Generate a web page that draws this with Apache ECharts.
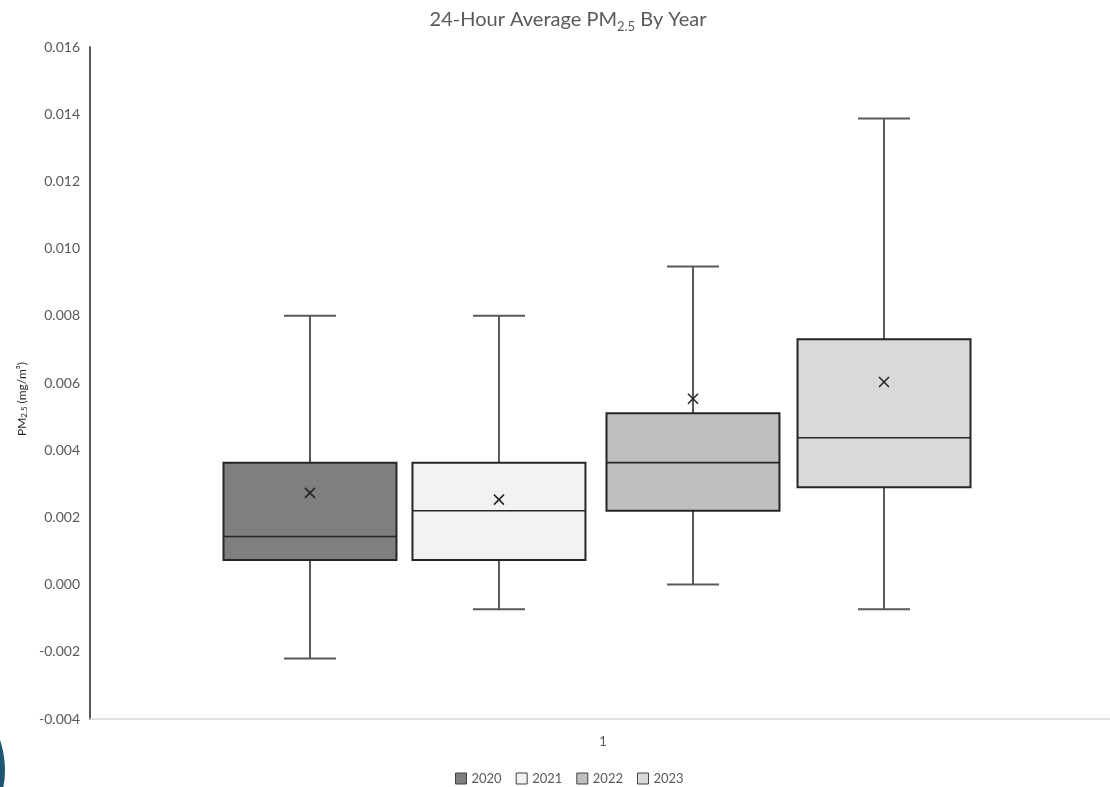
<!DOCTYPE html>
<html><head><meta charset="utf-8">
<script src="https://cdn.jsdelivr.net/npm/echarts@6/dist/echarts.min.js"></script>
<style>html,body{margin:0;padding:0;background:#fff}#c{width:1110px;height:787px}</style>
</head><body><div id="c"></div>
<script>
// ---- data ----
const categories = ['1'];
const years = ['2020', '2021', '2022', '2023'];
const minVals    = [-0.0022,  -0.00073, 0.0,     -0.00073];
const q1Vals     = [0.00073,  0.00073,  0.0022,  0.0029];
const medianVals = [0.00143,  0.0022,   0.00363, 0.00437];
const q3Vals     = [0.00363,  0.00363,  0.0051,  0.0073];
const maxVals    = [0.0080,   0.0080,   0.00947, 0.01387];
const meanVals   = [0.00273,  0.00253,  0.00553, 0.00603];
const yMin = -0.004, yMax = 0.016, yInterval = 0.002;

// ---- style ----
const fills = ['#7f7f7f', '#f2f2f2', '#bfbfbf', '#d9d9d9'];
const boxOffsetFrac = [-0.2856, -0.1014, 0.0877, 0.2739];
const boxWidthFrac = 0.1686, capWidthFrac = 0.0507;
const FONT = "Lato, 'Open Sans', sans-serif";
const TXT = '#595959';

function makeRender(i) {
  return function (params, api) {
    const band = api.size([1, 0])[0];
    const cat = api.value(0);
    const cx = api.coord([cat, 0])[0] + boxOffsetFrac[i] * band;
    const w = boxWidthFrac * band, cw = capWidthFrac * band;
    const y = k => api.coord([cat, api.value(k)])[1];
    const yLo = y(1), yQ1 = y(2), yMed = y(3), yQ3 = y(4), yHi = y(5), yMean = y(6);
    const ws = { stroke: '#595959', lineWidth: 2 };
    const ms = { stroke: '#262626', lineWidth: 1.6 };
    const m = 5;
    return {
      type: 'group',
      children: [
        { type: 'line', shape: { x1: cx, y1: yHi, x2: cx, y2: yQ3 }, style: ws },
        { type: 'line', shape: { x1: cx, y1: yQ1, x2: cx, y2: yLo }, style: ws },
        { type: 'line', shape: { x1: cx - cw / 2, y1: yHi, x2: cx + cw / 2, y2: yHi }, style: ws },
        { type: 'line', shape: { x1: cx - cw / 2, y1: yLo, x2: cx + cw / 2, y2: yLo }, style: ws },
        { type: 'rect', shape: { x: cx - w / 2, y: yQ3, width: w, height: yQ1 - yQ3 },
          style: { fill: fills[i], stroke: '#262626', lineWidth: 2 } },
        { type: 'line', shape: { x1: cx - w / 2, y1: yMed, x2: cx + w / 2, y2: yMed }, style: ms },
        { type: 'line', shape: { x1: cx - m, y1: yMean - m, x2: cx + m, y2: yMean + m }, style: { stroke: '#262626', lineWidth: 1.6 } },
        { type: 'line', shape: { x1: cx - m, y1: yMean + m, x2: cx + m, y2: yMean - m }, style: { stroke: '#262626', lineWidth: 1.6 } }
      ]
    };
  };
}

const series = years.map((yr, i) => ({
  name: yr,
  type: 'custom',
  renderItem: makeRender(i),
  itemStyle: { color: fills[i] },
  encode: { x: 0, y: [1, 2, 3, 4, 5, 6] },
  data: [[0, minVals[i], q1Vals[i], medianVals[i], q3Vals[i], maxVals[i], meanVals[i]]]
}));

const chart = echarts.init(document.getElementById('c'), null, { renderer: 'canvas' });
chart.setOption({
  backgroundColor: '#fff',
  animation: false,
  textStyle: { fontFamily: FONT },
  title: {
    text: '24-Hour Average PM{sub|2.5} By Year',
    left: 563, textAlign: 'center', top: 2,
    textStyle: {
      fontFamily: FONT, fontSize: 20, fontWeight: 'normal', color: TXT, lineHeight: 26,
      rich: { sub: { fontFamily: FONT, fontSize: 13, color: TXT, verticalAlign: 'bottom', lineHeight: 26, padding: [7, 0, 0, 0] } }
    }
  },
  grid: { left: 90, right: -6, top: 47, bottom: 68, outerBoundsMode: 'none', containLabel: false },
  legend: {
    data: years, top: 767, left: 450, icon: 'rect', itemWidth: 11, itemHeight: 11, itemGap: 14,
    itemStyle: { borderColor: '#404040', borderWidth: 1 },
    textStyle: { color: TXT, fontSize: 13, fontFamily: FONT }
  },
  xAxis: {
    type: 'category', data: categories,
    axisLine: { show: true, onZero: false, lineStyle: { color: '#d9d9d9', width: 1.5 } },
    axisTick: { show: false },
    axisLabel: { color: TXT, fontSize: 13, margin: 16, fontFamily: FONT },
    splitLine: { show: false }
  },
  yAxis: {
    type: 'value', min: yMin, max: yMax, interval: yInterval,
    axisLine: { show: true, lineStyle: { color: '#595959', width: 2 } },
    axisTick: { show: false },
    splitLine: { show: false },
    axisLabel: { color: TXT, fontSize: 14, margin: 10, fontFamily: FONT, formatter: v => v.toFixed(3) }
  },
  graphic: [
    {
      type: 'text', x: 22, y: 399, rotation: Math.PI / 2,
      style: {
        text: 'PM{sub|2.5} (mg/m³)', align: 'center', verticalAlign: 'middle',
        fill: '#262626', font: '12px ' + FONT,
        rich: { sub: { fontSize: 8, fontFamily: FONT, fill: '#262626', verticalAlign: 'bottom', padding: [4, 0, 0, 0] } }
      }
    },
    {
      type: 'circle', shape: { cx: -87.5, cy: 770, r: 92.5 },
      style: { fill: '#1d5675' }
    }
  ],
  series: series
});
</script></body></html>
